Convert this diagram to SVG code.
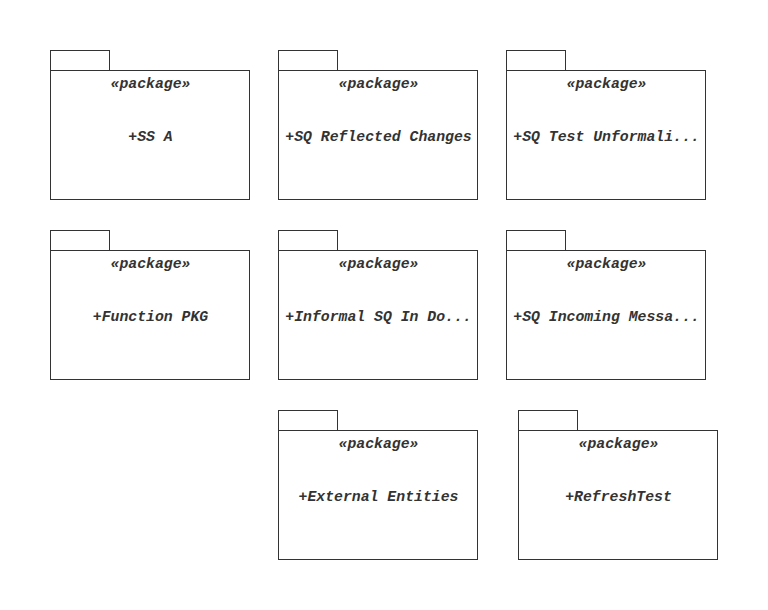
<svg xmlns="http://www.w3.org/2000/svg" width="768" height="610" viewBox="0 0 768 610">
<style>
.pk{fill:#fff;stroke:#333;stroke-width:1}
.t{font-family:"Liberation Mono","Courier New",monospace;font-size:14.8px;font-weight:bold;font-style:italic;fill:#333;text-anchor:middle}
</style>
<rect width="768" height="610" fill="#fff"/>
<g id="connectors"/>
<g id="n1" transform="translate(50,50)"><rect class="pk" x="0.5" y="0.5" width="59" height="20"/><rect class="pk" x="0.5" y="20.5" width="199" height="129"/><text class="t" x="100.5" y="38">«package»</text><text class="t" x="100.5" y="90.5">+SS A</text></g>
<g id="n2" transform="translate(278,50)"><rect class="pk" x="0.5" y="0.5" width="59" height="20"/><rect class="pk" x="0.5" y="20.5" width="199" height="129"/><text class="t" x="100.5" y="38">«package»</text><text class="t" x="100.5" y="90.5">+SQ Reflected Changes</text></g>
<g id="n3" transform="translate(506,50)"><rect class="pk" x="0.5" y="0.5" width="59" height="20"/><rect class="pk" x="0.5" y="20.5" width="199" height="129"/><text class="t" x="100.5" y="38">«package»</text><text class="t" x="100.5" y="90.5">+SQ Test Unformali...</text></g>
<g id="n4" transform="translate(50,230)"><rect class="pk" x="0.5" y="0.5" width="59" height="20"/><rect class="pk" x="0.5" y="20.5" width="199" height="129"/><text class="t" x="100.5" y="38">«package»</text><text class="t" x="100.5" y="90.5">+Function PKG</text></g>
<g id="n5" transform="translate(278,230)"><rect class="pk" x="0.5" y="0.5" width="59" height="20"/><rect class="pk" x="0.5" y="20.5" width="199" height="129"/><text class="t" x="100.5" y="38">«package»</text><text class="t" x="100.5" y="90.5">+Informal SQ In Do...</text></g>
<g id="n6" transform="translate(506,230)"><rect class="pk" x="0.5" y="0.5" width="59" height="20"/><rect class="pk" x="0.5" y="20.5" width="199" height="129"/><text class="t" x="100.5" y="38">«package»</text><text class="t" x="100.5" y="90.5">+SQ Incoming Messa...</text></g>
<g id="n7" transform="translate(278,410)"><rect class="pk" x="0.5" y="0.5" width="59" height="20"/><rect class="pk" x="0.5" y="20.5" width="199" height="129"/><text class="t" x="100.5" y="38">«package»</text><text class="t" x="100.5" y="90.5">+External Entities</text></g>
<g id="n8" transform="translate(518,410)"><rect class="pk" x="0.5" y="0.5" width="59" height="20"/><rect class="pk" x="0.5" y="20.5" width="199" height="129"/><text class="t" x="100.5" y="38">«package»</text><text class="t" x="100.5" y="90.5">+RefreshTest</text></g>
</svg>
